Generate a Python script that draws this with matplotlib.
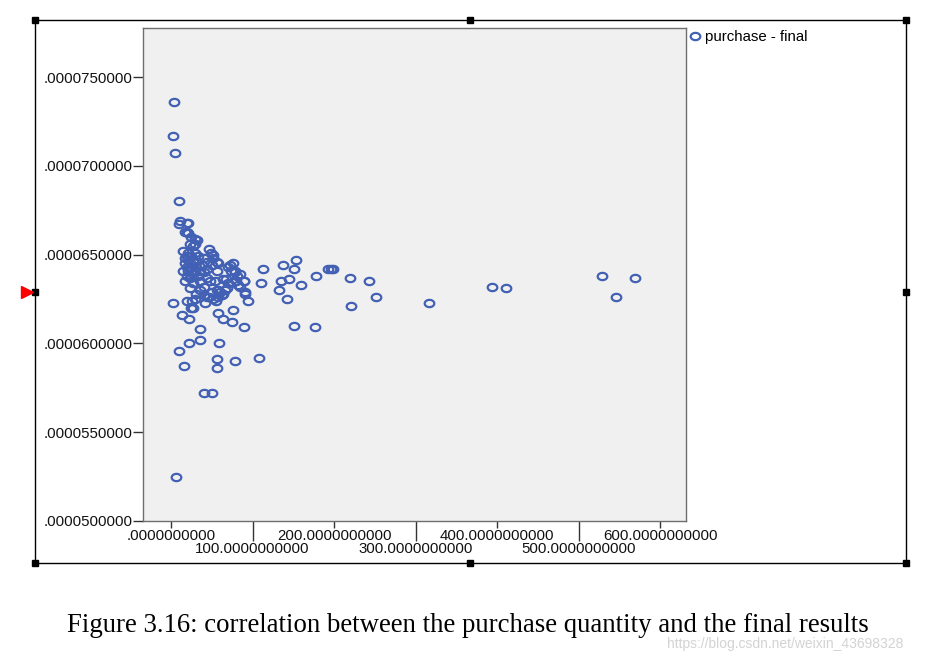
import numpy as np
import matplotlib
matplotlib.use("Agg")
import matplotlib.pyplot as plt
from matplotlib.path import Path
from matplotlib.lines import Line2D
from matplotlib.patches import Rectangle
from matplotlib.ticker import FixedLocator, FuncFormatter

# ---- data: purchase quantity vs final result ----
purchase = [4, 2.5, 5, 10, 11, 10, 19, 21, 19, 24, 29.5, 31.5, 27, 23, 47, 49, 51, 57,
            72, 76.5, 70, 78.5, 81, 90, 82, 91, 94, 68, 69, 62, 55, 58, 113, 138, 153,
            151, 178, 192, 196, 199, 220, 243, 251, 221, 110, 135, 145, 159, 133, 142,
            151, 177, 317, 394, 411, 529, 546, 569, 3, 19, 26, 24, 27, 13, 22, 36, 22,
            36, 10, 59, 56, 57, 16, 78, 108, 58, 64, 75, 76, 90, 40, 50, 6, 42, 44,
            17, 21, 29, 21, 19, 25, 21, 27, 31, 23, 17, 19, 25, 31, 38, 44, 50, 58,
            74, 78.5, 85, 21, 19, 23, 27, 33.5, 40, 44, 48, 54, 56, 64, 70, 66, 60,
            56, 50, 40, 36, 31, 40, 46, 52, 58, 64, 89, 91, 29, 80, 85, 15, 17, 29,
            33.5, 15, 29, 36, 17, 27, 36, 23, 44, 52, 40]
final = [736e-7, 717e-7, 707e-7, 680e-7, 669e-7, 667e-7, 668e-7, 668e-7, 663e-7, 660e-7,
         659e-7, 658e-7, 655e-7, 656e-7, 653e-7, 651e-7, 650e-7, 646e-7, 644e-7, 645e-7,
         643e-7, 641e-7, 638e-7, 635e-7, 633e-7, 628e-7, 624e-7, 636e-7, 631e-7, 627e-7,
         624e-7, 630e-7, 642e-7, 644e-7, 647e-7, 642e-7, 638e-7, 642e-7, 642e-7, 642e-7,
         637e-7, 635e-7, 626e-7, 621e-7, 634e-7, 635e-7, 636e-7, 633e-7, 630e-7, 625e-7,
         610e-7, 609e-7, 623e-7, 632e-7, 631e-7, 638e-7, 626e-7, 637e-7, 623e-7, 624e-7,
         624e-7, 620e-7, 620e-7, 616e-7, 614e-7, 608e-7, 600e-7, 602e-7, 596e-7, 600e-7,
         591e-7, 586e-7, 587e-7, 590e-7, 592e-7, 617e-7, 614e-7, 612e-7, 619e-7, 609e-7,
         572e-7, 572e-7, 525e-7, 623e-7, 626e-7,
         663e-7, 662e-7, 656e-7, 651e-7, 649e-7, 649e-7, 647e-7, 647e-7, 646e-7, 645e-7,
         645e-7, 643e-7, 643e-7, 643e-7, 644e-7, 646e-7, 644e-7, 645e-7, 640.5e-7, 640e-7,
         639e-7, 640.5e-7, 638e-7, 637e-7, 639e-7, 638e-7, 640e-7, 637e-7, 635e-7, 635e-7,
         640.5e-7, 636e-7, 634e-7, 630e-7, 629e-7, 630e-7, 629e-7, 632e-7, 630e-7, 628e-7,
         627e-7, 626e-7, 625e-7, 626e-7, 628e-7, 635e-7, 629e-7, 625e-7, 635e-7, 632e-7,
         652e-7, 648e-7, 651e-7, 649e-7, 641e-7, 641e-7, 641e-7, 635e-7, 634e-7, 635e-7,
         631e-7, 642e-7, 648e-7, 648e-7]

x_ticks_major = [0, 200, 400, 600]
x_ticks_minor = [100, 300, 500]
y_ticks = [5.0e-5, 5.5e-5, 6.0e-5, 6.5e-5, 7.0e-5, 7.5e-5]
series_label = "purchase - final"
caption = "Figure 3.16: correlation between the purchase quantity and the final results"
watermark = "https://blog.csdn.net/weixin_43698328"

W, H = 930, 651
fig = plt.figure(figsize=(W / 100, H / 100), dpi=100)
fig.patch.set_facecolor("white")

def fx(px):
    return px / W

def fy(py):
    return 1 - py / H

# plot area
ax = fig.add_axes([fx(143), fy(521), (686 - 143) / W, (521 - 28) / H])
ax.set_facecolor("#f0f0f0")
ax.set_xlim(-34.4, 631.9)
ax.set_ylim(5.0e-5, 7.776e-5)

theta = np.linspace(0, 2 * np.pi, 48)
ellipse = Path(np.column_stack([np.cos(theta), 0.76 * np.sin(theta)]), closed=True)
color = "#4260b4"
ax.plot(purchase, final, linestyle="none", marker=ellipse, markersize=6.9,
        markerfacecolor="none", markeredgecolor=color, markeredgewidth=1.6,
        label=series_label)

for s in ax.spines.values():
    s.set_color("#6e6e6e")
    s.set_linewidth(1.0)

font = "Liberation Sans"
fs = 10.8
fmt = FuncFormatter(lambda v, p: ("%.10f" % v).lstrip("0") if abs(v) < 1 else "%.10f" % v)
ax.xaxis.set_major_locator(FixedLocator(x_ticks_major))
ax.xaxis.set_minor_locator(FixedLocator(x_ticks_minor))
ax.xaxis.set_major_formatter(fmt)
ax.xaxis.set_minor_formatter(fmt)
ax.yaxis.set_major_locator(FixedLocator(y_ticks))
ax.yaxis.set_major_formatter(fmt)
ax.tick_params(axis="x", which="major", length=5.0, width=1.0, color="#333333",
               pad=1.0, labelsize=fs, direction="out")
ax.tick_params(axis="x", which="minor", length=14.5, width=1.0, color="#333333",
               pad=0.6, labelsize=fs, direction="out")
ax.tick_params(axis="y", which="major", length=7.0, width=1.0, color="#333333",
               pad=0.3, labelsize=fs, direction="out")
for lab in ax.get_xticklabels(which="both") + ax.get_yticklabels():
    lab.set_fontfamily(font)
    lab.set_color("#111111")

# legend
leg = fig.legend(loc="upper left", bbox_to_anchor=(fx(689), fy(30)), frameon=False,
                 borderpad=0, borderaxespad=0, handlelength=0.75, handletextpad=0.3,
                 prop={"family": font, "size": fs})

# outer frame with handles
fig.add_artist(Rectangle((fx(35), fy(563)), (906 - 35) / W, (563 - 20) / H,
                         transform=fig.transFigure, fill=False, edgecolor="black",
                         linewidth=1.0))
hx = [35, 470, 906, 35, 906, 35, 470, 906]
hy = [20, 20, 20, 292, 292, 563, 563, 563]
fig.add_artist(Line2D([fx(v) for v in hx], [fy(v) for v in hy], transform=fig.transFigure,
                      linestyle="none", marker="s", markersize=4.2, color="black"))
fig.add_artist(Line2D([fx(27)], [fy(292)], transform=fig.transFigure, linestyle="none",
                      marker=">", markersize=9, color="#ff0000"))

fig.text(fx(468), fy(625), caption, family="Liberation Serif", fontsize=19.3,
         ha="center", va="center", color="black")
fig.text(fx(785), fy(644), watermark, family=font, fontsize=10, ha="center",
         va="center", color="#c8c8c8", alpha=0.8)

fig.savefig("out.png", dpi=100)
